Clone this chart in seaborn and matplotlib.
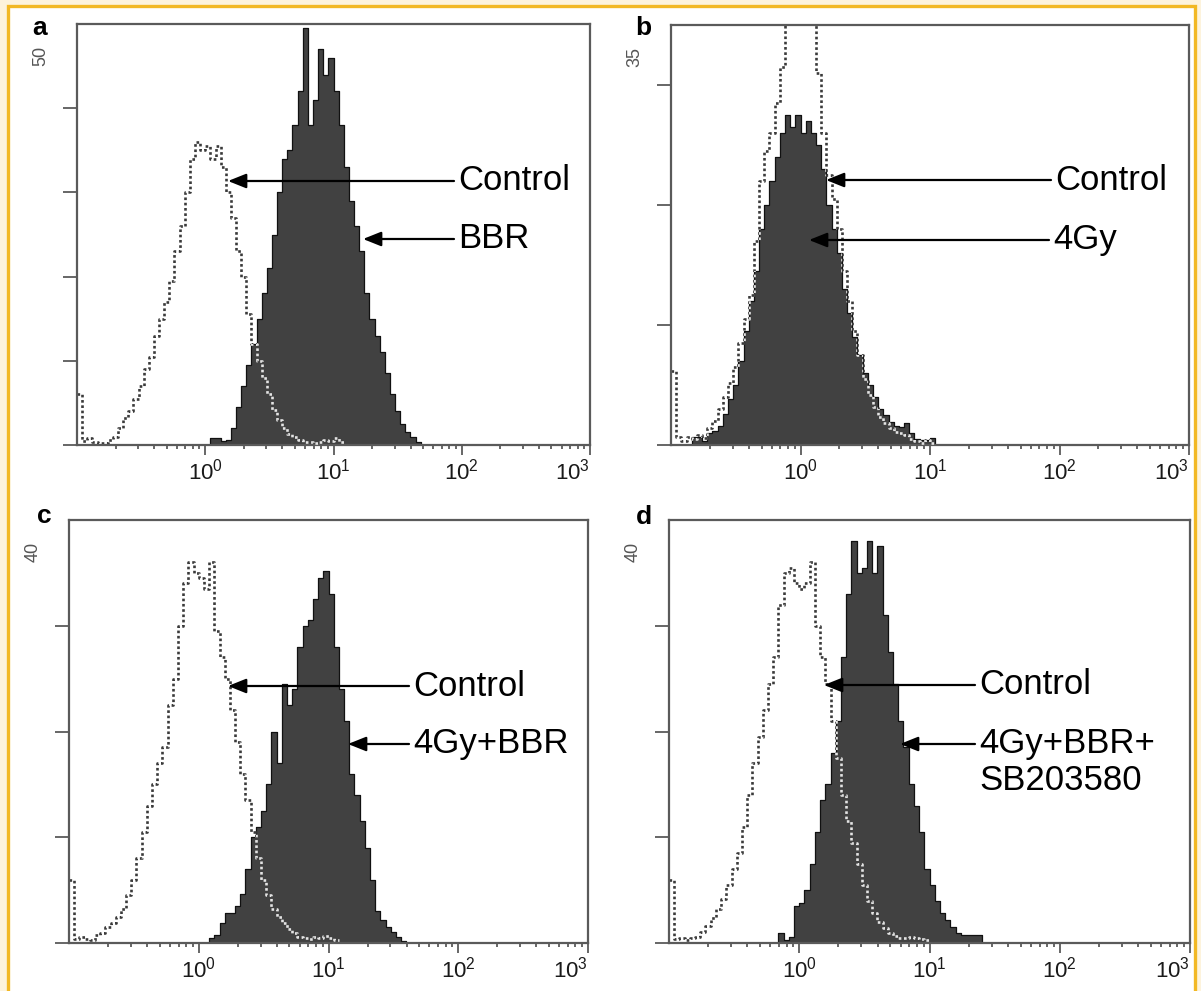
import numpy as np
import matplotlib
matplotlib.use("Agg")
import matplotlib.pyplot as plt
import seaborn as sns
from matplotlib.patches import Rectangle
from matplotlib.ticker import FixedLocator, LogLocator, NullFormatter

sns.set_style("ticks")
plt.rcParams["font.family"] = ["Liberation Sans", "DejaVu Sans"]
plt.rcParams["mathtext.fontset"] = "custom"
plt.rcParams["mathtext.rm"] = "Liberation Sans"
plt.rcParams["mathtext.it"] = "Liberation Sans:italic"
plt.rcParams["mathtext.bf"] = "Liberation Sans:bold"

# ---------------------------------------------------------------- data
BIN = 0.04  # channel width in decades (log10 units)

panel_letters = ["a", "b", "c", "d"]
y_max = [50, 35, 40, 40]
y_ticks = [[0, 10, 20, 30, 40], [0, 10, 20, 30], [0, 10, 20, 30], [0, 10, 20, 30]]
x_ticks = [1, 10, 100, 1000]
x_tick_labels = [r"$\mathregular{10^{0}}$", r"$\mathregular{10^{1}}$",
                 r"$\mathregular{10^{2}}$", r"$\mathregular{10^{3}}$"]
control_label = "Control"
treatment_labels = ["BBR", "4Gy", "4Gy+BBR", "4Gy+BBR+\nSB203580"]

# log10 of the first channel centre and counts per channel
a_ctrl_first = -0.98
a_ctrl = [6, 0.5, 0.8, 0.3, 0.2, 0.2, 0.6, 1.0, 2.0, 3.2, 4, 5.5, 7, 9, 10.5, 13, 15, 17,
          19.5, 23, 26, 30, 34, 36, 35, 35.5, 34, 35.5, 33, 30, 27, 23, 20, 15.5, 12, 10,
          8, 6, 4.2, 3.0, 2, 1.3, 0.9, 0.6, 0.4, 0.3, 0.2, 0.4, 0.6, 0.5, 0.8, 0.3]
a_trt_first = 0.06
a_trt = [0.8, 0.8, 0.5, 0.6, 2.0, 4.5, 7, 9.5, 12, 15, 18, 21, 25, 30, 34, 35, 38, 42,
         49.5, 38, 41, 47, 44, 46, 42, 38, 33, 29, 26, 23, 18, 15, 13, 11, 8.5, 6, 4,
         2.5, 1.5, 1.0, 0.3]

b_ctrl_first = -0.98
b_ctrl = [6.2, 0.7, 0.3, 0.7, 0.5, 0.8, 0.6, 1.4, 2.0, 3.0, 4.0, 5.2, 6.5, 8.5, 10.5,
          12.5, 17, 22, 24.5, 26, 28.5, 31.5, 35.5, 38, 40, 39, 38, 36, 31, 26, 22.5,
          20.5, 18, 14.5, 12, 9.5, 7.5, 5.5, 4.2, 3.2, 2.3, 1.8, 1.4, 1.1, 1.0, 0.8,
          0.5, 0.3, 0.2, 0.4, 0.2]
b_trt_first = -0.82
b_trt = [0.7, 0.7, 0.3, 1.0, 1.2, 1.6, 2.6, 3.8, 5.0, 7.0, 9.5, 12, 14.5, 18, 20, 22,
         24, 26, 27.5, 26.5, 27.5, 26, 27, 26, 25, 23, 20, 18, 16, 13, 11, 9, 7.5, 6,
         5, 4, 3, 2.5, 1.9, 1.6, 1.5, 1.8, 1.0, 0.5, 0.4, 0.4, 0.6]

c_ctrl_first = -0.98
c_ctrl = [6, 0.4, 0.6, 0.4, 0.3, 0.8, 0.9, 1.5, 1.9, 2.5, 3.2, 4.5, 6, 8, 10.5, 13, 15,
          17, 18.5, 22.5, 25, 30, 34, 36, 35, 34.5, 33.5, 36, 29.5, 27, 25, 22, 19, 16,
          13.5, 10.5, 8, 6, 4.5, 3.2, 2.5, 1.9, 1.3, 0.9, 0.6, 0.5, 0.4, 0.6, 0.5, 0.7,
          0.5, 0.3]
c_trt_first = 0.10
c_trt = [0.5, 0.8, 1.9, 2.8, 2.8, 3.5, 4.6, 7, 10, 11, 12.5, 15, 20, 17, 24.5, 22.5,
         24, 28, 30, 30.5, 32.5, 34.5, 35.2, 33, 28, 24, 21, 16, 14, 11.5, 9, 6, 3,
         2.2, 1.5, 1.0, 0.6, 0.2]

d_ctrl_first = -0.98
d_ctrl = [6, 0.4, 0.5, 0.3, 0.5, 0.6, 1.0, 1.6, 2.4, 3.2, 4.2, 5.5, 7, 8.5, 11, 14, 17,
          19.5, 22, 24.5, 27, 32, 35, 35.5, 34, 33.5, 34, 36, 30, 27, 24.5, 21, 17.5,
          14, 11.5, 9.5, 7.5, 5.5, 4, 2.8, 2, 1.4, 0.9, 0.7, 0.5, 0.5, 0.6, 0.5, 0.4,
          0.3]
d_trt_first = -0.14
d_trt = [0.9, 0.3, 0.6, 3.5, 3.8, 5, 7.5, 10.5, 13.5, 15, 18, 21, 27, 33, 38, 35, 35.5,
         38, 35, 37.5, 31, 27.5, 24.5, 21, 18.5, 15, 13, 10.5, 7, 5.5, 4, 2.8, 2.2, 1.5,
         0.9, 0.8, 0.8, 0.8, 0.8]

controls = [(a_ctrl_first, a_ctrl), (b_ctrl_first, b_ctrl),
            (c_ctrl_first, c_ctrl), (d_ctrl_first, d_ctrl)]
treatments = [(a_trt_first, a_trt), (b_trt_first, b_trt),
              (c_trt_first, c_trt), (d_trt_first, d_trt)]

# ---------------------------------------------------------------- style
CREAM = "#FDF3DC"
ORANGE = "#F2B824"
FILL = "#414141"
DOT_DARK = "#3a3a3a"
DOT_LIGHT = "#e4e4e4"
AXIS_COL = "#5a5a5a"
DOTS = (0, (1.0, 1.0))

W, H = 1201, 991


def fx(x):
    return x / W


def fy(y):
    return 1 - y / H


def channel_values(first_log, counts):
    return 10 ** (first_log + BIN * np.arange(len(counts)))


def channel_range(first_log, counts):
    return (first_log - BIN / 2, first_log + BIN * (len(counts) - 0.5))


fig = plt.figure(figsize=(W / 100, H / 100), dpi=100)
fig.patch.set_facecolor(CREAM)
frame = Rectangle((fx(8), fy(1010)), fx(1195) - fx(8), fy(6) - fy(1010),
                  transform=fig.transFigure, facecolor="white", edgecolor=ORANGE,
                  linewidth=2.4, zorder=-10)
fig.add_artist(frame)

# axes boxes in pixels: left, top, right, bottom
boxes = [(77, 24, 590, 445), (671, 25, 1189, 445), (69, 520, 588, 943), (669, 520, 1190, 943)]
letter_pos = [(40, 35), (643, 35), (44, 523), (644, 524)]
# annotation layout (text left x, text centre y, arrow tip x) per label row
ctrl_ann = [(458, 181, 228), (1055, 180, 826), (413, 686, 228), (979, 685, 824)]
trt_ann = [(458, 239, 363), (1053, 240, 809), (413, 744, 348), (979, 744, 900)]

for i, ax_box in enumerate(boxes):
    l, t, r, b = ax_box
    ax = fig.add_axes([fx(l), fy(b), fx(r) - fx(l), fy(t) - fy(b)])
    ax.set_facecolor("white")

    cf, cv = controls[i]
    tf, tv = treatments[i]
    common = dict(ax=ax, log_scale=True, element="step", stat="count", legend=False)

    sns.histplot(x=channel_values(cf, cv), weights=cv, bins=len(cv),
                 binrange=channel_range(cf, cv), fill=False, color=DOT_DARK,
                 alpha=1, linewidth=1.9, linestyle=DOTS, **common)
    sns.histplot(x=channel_values(tf, tv), weights=tv, bins=len(tv),
                 binrange=channel_range(tf, tv), fill=True, color=FILL, alpha=1,
                 edgecolor="#111111", linewidth=0.9, **common)
    poly = ax.collections[-1]
    sns.histplot(x=channel_values(cf, cv), weights=cv, bins=len(cv),
                 binrange=channel_range(cf, cv), fill=False, color=DOT_LIGHT,
                 alpha=1, linewidth=1.9, linestyle=DOTS, **common)
    light = ax.lines[-1]
    light.set_clip_path(poly.get_paths()[0], poly.get_transform())
    light.set_zorder(3)

    ax.set_xlim(0.1, 1000)
    ax.set_ylim(0, y_max[i])
    ax.set_xlabel("")
    ax.set_ylabel("")
    ax.xaxis.set_major_locator(FixedLocator(x_ticks))
    ax.set_xticklabels(x_tick_labels)
    ax.xaxis.set_minor_locator(LogLocator(base=10, subs=np.arange(2, 10), numticks=30))
    ax.xaxis.set_minor_formatter(NullFormatter())
    ax.set_yticks(y_ticks[i])
    ax.set_yticklabels([])
    ax.tick_params(axis="x", which="major", length=7, width=1.3, color=AXIS_COL,
                   labelsize=16, pad=3, labelcolor="#1a1a1a")
    ax.tick_params(axis="x", which="minor", length=3, width=1.3, color=AXIS_COL)
    ax.tick_params(axis="y", which="major", length=10, width=1.3, color=AXIS_COL)
    lbls = ax.get_xticklabels()
    lbls[-1].set_horizontalalignment("right")
    for sp in ax.spines.values():
        sp.set_visible(True)
        sp.set_color(AXIS_COL)
        sp.set_linewidth(1.6)

    ax.annotate(str(y_max[i]), xy=(0, 1), xycoords="axes fraction",
                xytext=(-36, -32), textcoords="offset pixels", rotation=90,
                ha="center", va="center", fontsize=13, color="#555555")

    lx, ly = letter_pos[i]
    fig.text(fx(lx), fy(ly), panel_letters[i], ha="center", va="baseline",
             fontsize=19, fontweight="bold", color="black")

    for (tx, ty, tip), label in ((ctrl_ann[i], control_label), (trt_ann[i], treatment_labels[i])):
        for k, line in enumerate(label.split("\n")):
            fig.text(fx(tx), fy(ty + 37 * k), line, ha="left", va="center",
                     fontsize=25, color="black")
        ax.annotate("", xy=(tip, H - ty), xycoords="figure pixels",
                    xytext=(tx - 4, H - ty), textcoords="figure pixels",
                    arrowprops=dict(arrowstyle="-|>,head_length=0.55,head_width=0.22",
                                    color="black", lw=1.6, mutation_scale=20,
                                    shrinkA=0, shrinkB=0))

fig.savefig("out.png", dpi=100, facecolor=fig.get_facecolor())
